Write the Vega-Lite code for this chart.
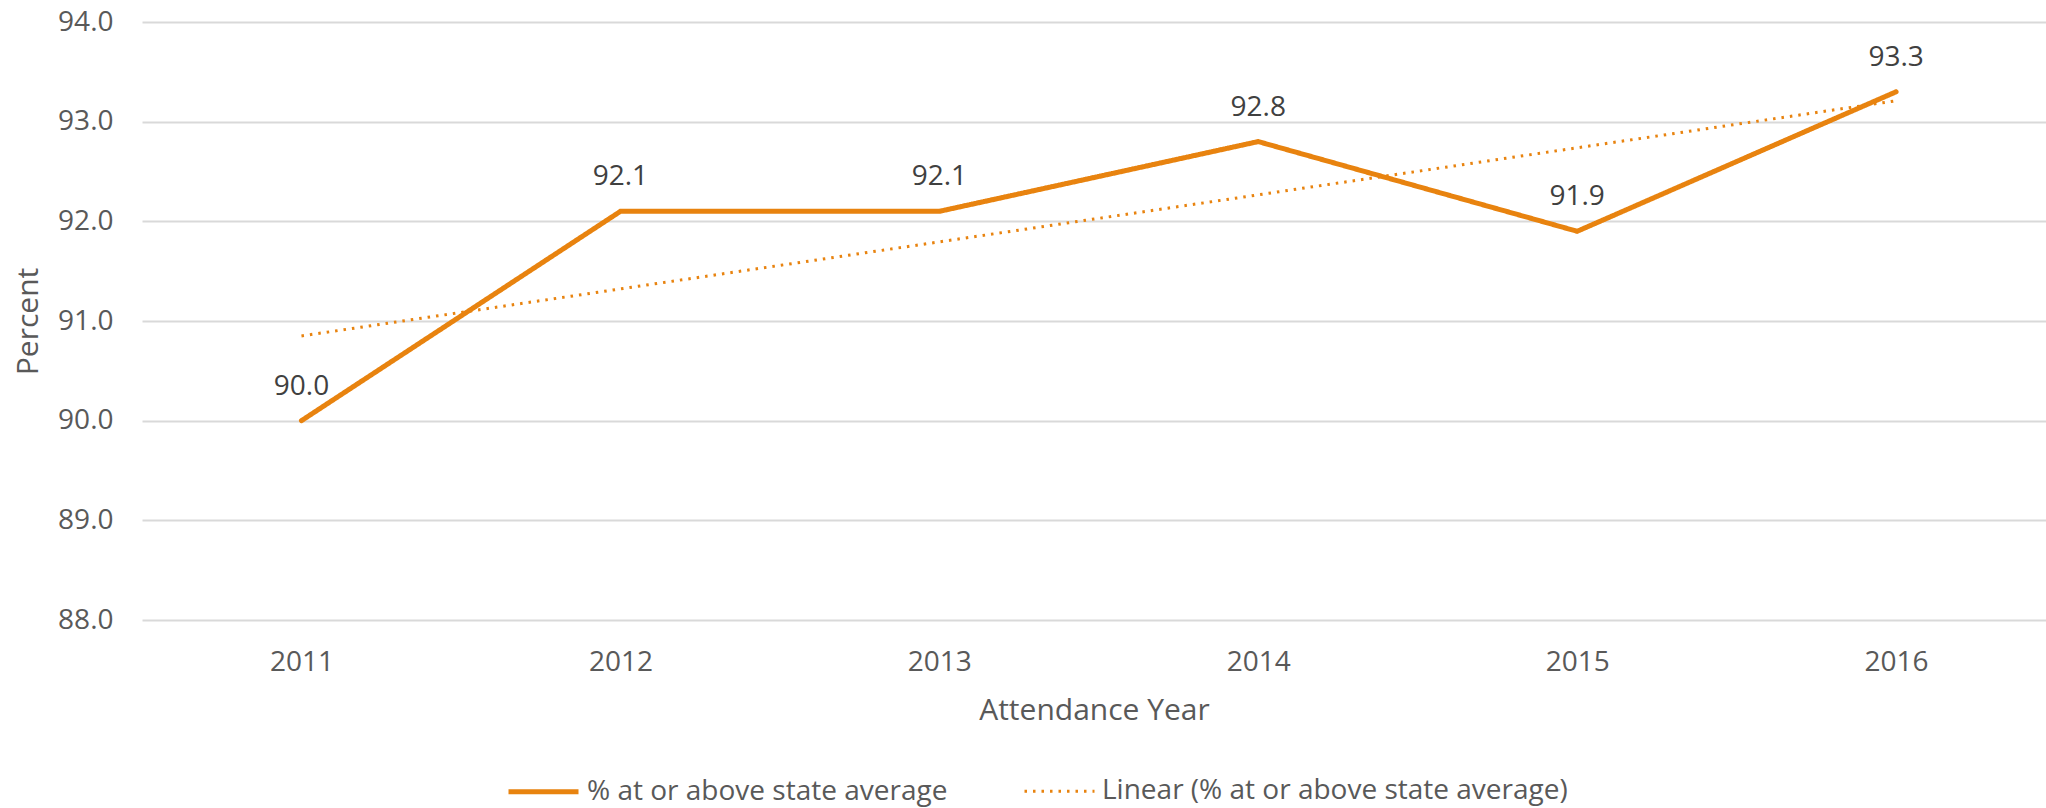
{
  "$schema": "https://vega.github.io/schema/vega-lite/v6.json",
  "width": 1904,
  "height": 598,
  "autosize": {"type": "none"},
  "padding": {"left": 142, "top": 22, "right": 0, "bottom": 188},
  "background": "white",
  "config": {"view": {"stroke": null}, "font": "Open Sans"},
  "data": {
    "values": [
      {"year": 2011, "value": 90.0, "series": "% at or above state average"},
      {"year": 2012, "value": 92.1, "series": "% at or above state average"},
      {"year": 2013, "value": 92.1, "series": "% at or above state average"},
      {"year": 2014, "value": 92.8, "series": "% at or above state average"},
      {"year": 2015, "value": 91.9, "series": "% at or above state average"},
      {"year": 2016, "value": 93.3, "series": "% at or above state average"},
      {"year": 2011, "value": 90.85, "series": "Linear (% at or above state average)"},
      {"year": 2016, "value": 93.21, "series": "Linear (% at or above state average)"}
    ]
  },
  "encoding": {
    "x": {
      "field": "year",
      "type": "quantitative",
      "scale": {"domain": [2010.5, 2016.47], "nice": false, "zero": false},
      "axis": {
        "values": [2011, 2012, 2013, 2014, 2015, 2016],
        "format": "d",
        "grid": false,
        "ticks": false,
        "tickSize": 0,
        "domain": false,
        "labelFlush": false,
        "labelFontSize": 28,
        "labelColor": "#595959",
        "labelPadding": 28,
        "title": "Attendance Year",
        "titleFontSize": 30,
        "titleFontWeight": "normal",
        "titleColor": "#595959",
        "titlePadding": 19
      }
    },
    "y": {
      "field": "value",
      "type": "quantitative",
      "scale": {"domain": [88, 94], "nice": false, "zero": false},
      "axis": {
        "values": [88, 89, 90, 91, 92, 93, 94],
        "format": ".1f",
        "grid": true,
        "gridColor": "#d9d9d9",
        "gridWidth": 2,
        "ticks": false,
        "tickSize": 0,
        "domain": false,
        "labelFontSize": 28,
        "labelColor": "#595959",
        "labelPadding": 29,
        "title": "Percent",
        "titleFontSize": 30,
        "titleFontWeight": "normal",
        "titleColor": "#595959",
        "titlePadding": 14
      }
    }
  },
  "layer": [
    {
      "transform": [{"filter": "datum.series === '% at or above state average'"}],
      "mark": {"type": "line", "strokeCap": "round", "strokeJoin": "miter"},
      "encoding": {
        "color": {
          "field": "series",
          "type": "nominal",
          "scale": {"domain": ["% at or above state average", "Linear (% at or above state average)"], "range": ["#E8830F", "#E8830F"]},
          "legend": {
            "orient": "none",
            "legendX": 364,
            "legendY": 732,
            "direction": "horizontal",
            "title": null,
            "symbolType": "stroke",
            "symbolSize": 4900,
            "labelFontSize": 28,
            "labelColor": "#595959",
            "labelOffset": 6,
            "columnPadding": 70,
            "labelLimit": 800,
            "padding": 0
          }
        },
        "strokeDash": {
          "field": "series",
          "type": "nominal",
          "scale": {"domain": ["% at or above state average", "Linear (% at or above state average)"], "range": [[1, 0], [2.5, 6]]}
        },
        "strokeWidth": {
          "field": "series",
          "type": "nominal",
          "scale": {"domain": ["% at or above state average", "Linear (% at or above state average)"], "range": [5, 3]}
        }
      }
    },
    {
      "transform": [{"filter": "datum.series === 'Linear (% at or above state average)'"}],
      "mark": {"type": "line", "strokeCap": "butt"},
      "encoding": {
        "color": {"field": "series", "type": "nominal"},
        "strokeDash": {"field": "series", "type": "nominal"},
        "strokeWidth": {"field": "series", "type": "nominal"}
      }
    },
    {
      "transform": [{"filter": "datum.series === '% at or above state average'"}],
      "mark": {"type": "text", "baseline": "alphabetic", "align": "center", "dy": -26, "fontSize": 28, "color": "#404040", "font": "Open Sans"},
      "encoding": {
        "text": {"field": "value", "type": "quantitative", "format": ".1f"}
      }
    }
  ]
}
